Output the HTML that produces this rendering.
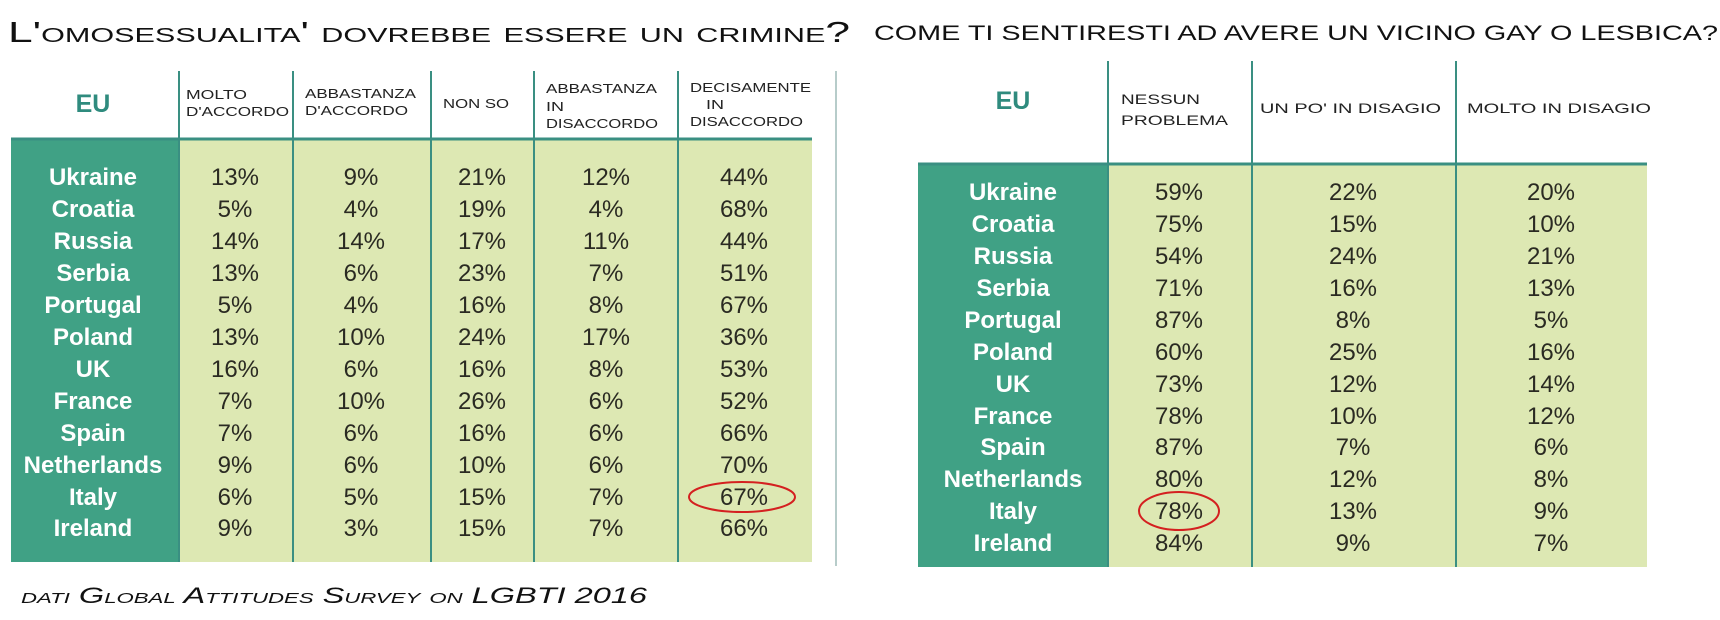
<!DOCTYPE html>
<html><head><meta charset="utf-8"><style>
html,body{margin:0;padding:0;background:#fff;}
svg{display:block;}
.n{font-family:"Liberation Sans",sans-serif;font-weight:bold;fill:#fff;font-size:24px;}
.v{font-family:"Liberation Sans",sans-serif;fill:#2a2a22;font-size:24px;}
.h{font-family:"Liberation Sans",sans-serif;fill:#222;font-size:12.5px;}
.eu{font-family:"Liberation Sans",sans-serif;font-weight:bold;fill:#2f8b7e;font-size:25px;}
</style></head><body>
<svg width="1720" height="620" viewBox="0 0 1720 620" xmlns="http://www.w3.org/2000/svg">
<rect width="1720" height="620" fill="#fff"/>
<!-- titles -->
<text x="8" y="42" font-family="Liberation Sans, sans-serif" font-size="29" fill="#111" style="font-variant:small-caps" textLength="842" lengthAdjust="spacingAndGlyphs">L'omosessualita' dovrebbe essere un crimine?</text>
<text x="874" y="40" font-family="Liberation Sans, sans-serif" font-size="21" fill="#111" textLength="844" lengthAdjust="spacingAndGlyphs">COME TI SENTIRESTI AD AVERE UN VICINO GAY O LESBICA?</text>
<text x="21" y="603" font-family="Liberation Sans, sans-serif" font-size="22" font-style="italic" fill="#111" style="font-variant:small-caps" textLength="626" lengthAdjust="spacingAndGlyphs">dati Global Attitudes Survey on LGBTI 2016</text>

<!-- LEFT TABLE -->
<rect x="11" y="140" width="168" height="422" fill="#40a185"/>
<rect x="179" y="140" width="633" height="422" fill="#dde8b3"/>
<line x1="11" y1="139" x2="812" y2="139" stroke="#3a8f82" stroke-width="3"/>
<g stroke="#3a8f82" stroke-width="2">
<line x1="179" y1="71" x2="179" y2="562"/>
<line x1="293" y1="71" x2="293" y2="562"/>
<line x1="431" y1="71" x2="431" y2="562"/>
<line x1="534" y1="71" x2="534" y2="562"/>
<line x1="678" y1="71" x2="678" y2="562"/>
</g>
<line x1="836" y1="71" x2="836" y2="566" stroke="#9fbcb8" stroke-width="1.5"/>
<text class="eu" x="93" y="112" text-anchor="middle">EU</text>
<g class="h">
<text x="186" y="99" textLength="61" lengthAdjust="spacingAndGlyphs">MOLTO</text>
<text x="186" y="116" textLength="103" lengthAdjust="spacingAndGlyphs">D'ACCORDO</text>
<text x="305" y="98" textLength="111" lengthAdjust="spacingAndGlyphs">ABBASTANZA</text>
<text x="305" y="115" textLength="103" lengthAdjust="spacingAndGlyphs">D'ACCORDO</text>
<text x="443" y="108" textLength="66" lengthAdjust="spacingAndGlyphs">NON SO</text>
<text x="546" y="93" textLength="111" lengthAdjust="spacingAndGlyphs">ABBASTANZA</text>
<text x="546" y="111" textLength="18" lengthAdjust="spacingAndGlyphs">IN</text>
<text x="546" y="128" textLength="112" lengthAdjust="spacingAndGlyphs">DISACCORDO</text>
<text x="690" y="92" textLength="121" lengthAdjust="spacingAndGlyphs">DECISAMENTE</text>
<text x="706" y="109" textLength="18" lengthAdjust="spacingAndGlyphs">IN</text>
<text x="690" y="126" textLength="113" lengthAdjust="spacingAndGlyphs">DISACCORDO</text>
</g>
<g text-anchor="middle">
<g class="n">
<text x="93" y="185">Ukraine</text><text x="93" y="217">Croatia</text><text x="93" y="249">Russia</text><text x="93" y="281">Serbia</text><text x="93" y="313">Portugal</text><text x="93" y="345">Poland</text><text x="93" y="377">UK</text><text x="93" y="409">France</text><text x="93" y="441">Spain</text><text x="93" y="473">Netherlands</text><text x="93" y="505">Italy</text><text x="93" y="536">Ireland</text>
</g>
<g class="v">
<text x="235" y="185">13%</text><text x="361" y="185">9%</text><text x="482" y="185">21%</text><text x="606" y="185">12%</text><text x="744" y="185">44%</text>
<text x="235" y="217">5%</text><text x="361" y="217">4%</text><text x="482" y="217">19%</text><text x="606" y="217">4%</text><text x="744" y="217">68%</text>
<text x="235" y="249">14%</text><text x="361" y="249">14%</text><text x="482" y="249">17%</text><text x="606" y="249">11%</text><text x="744" y="249">44%</text>
<text x="235" y="281">13%</text><text x="361" y="281">6%</text><text x="482" y="281">23%</text><text x="606" y="281">7%</text><text x="744" y="281">51%</text>
<text x="235" y="313">5%</text><text x="361" y="313">4%</text><text x="482" y="313">16%</text><text x="606" y="313">8%</text><text x="744" y="313">67%</text>
<text x="235" y="345">13%</text><text x="361" y="345">10%</text><text x="482" y="345">24%</text><text x="606" y="345">17%</text><text x="744" y="345">36%</text>
<text x="235" y="377">16%</text><text x="361" y="377">6%</text><text x="482" y="377">16%</text><text x="606" y="377">8%</text><text x="744" y="377">53%</text>
<text x="235" y="409">7%</text><text x="361" y="409">10%</text><text x="482" y="409">26%</text><text x="606" y="409">6%</text><text x="744" y="409">52%</text>
<text x="235" y="441">7%</text><text x="361" y="441">6%</text><text x="482" y="441">16%</text><text x="606" y="441">6%</text><text x="744" y="441">66%</text>
<text x="235" y="473">9%</text><text x="361" y="473">6%</text><text x="482" y="473">10%</text><text x="606" y="473">6%</text><text x="744" y="473">70%</text>
<text x="235" y="505">6%</text><text x="361" y="505">5%</text><text x="482" y="505">15%</text><text x="606" y="505">7%</text><text x="744" y="505">67%</text>
<text x="235" y="536">9%</text><text x="361" y="536">3%</text><text x="482" y="536">15%</text><text x="606" y="536">7%</text><text x="744" y="536">66%</text>
</g>
</g>
<ellipse cx="742" cy="497" rx="53" ry="15" fill="none" stroke="#d42020" stroke-width="2"/>

<!-- RIGHT TABLE -->
<rect x="918" y="165" width="190" height="402" fill="#40a185"/>
<rect x="1108" y="165" width="539" height="402" fill="#dde8b3"/>
<line x1="918" y1="164" x2="1647" y2="164" stroke="#3a8f82" stroke-width="3"/>
<g stroke="#3a8f82" stroke-width="2">
<line x1="1108" y1="61" x2="1108" y2="567"/>
<line x1="1252" y1="61" x2="1252" y2="567"/>
<line x1="1456" y1="61" x2="1456" y2="567"/>
</g>
<text class="eu" x="1013" y="109" text-anchor="middle">EU</text>
<g class="h" style="font-size:14px">
<text x="1121" y="104" textLength="79" lengthAdjust="spacingAndGlyphs">NESSUN</text>
<text x="1121" y="125" textLength="107" lengthAdjust="spacingAndGlyphs">PROBLEMA</text>
<text x="1260" y="113" textLength="181" lengthAdjust="spacingAndGlyphs">UN PO' IN DISAGIO</text>
<text x="1467" y="113" textLength="184" lengthAdjust="spacingAndGlyphs">MOLTO IN DISAGIO</text>
</g>
<g text-anchor="middle">
<g class="n">
<text x="1013" y="200">Ukraine</text><text x="1013" y="232">Croatia</text><text x="1013" y="264">Russia</text><text x="1013" y="296">Serbia</text><text x="1013" y="328">Portugal</text><text x="1013" y="360">Poland</text><text x="1013" y="392">UK</text><text x="1013" y="424">France</text><text x="1013" y="455">Spain</text><text x="1013" y="487">Netherlands</text><text x="1013" y="519">Italy</text><text x="1013" y="551">Ireland</text>
</g>
<g class="v">
<text x="1179" y="200">59%</text><text x="1353" y="200">22%</text><text x="1551" y="200">20%</text>
<text x="1179" y="232">75%</text><text x="1353" y="232">15%</text><text x="1551" y="232">10%</text>
<text x="1179" y="264">54%</text><text x="1353" y="264">24%</text><text x="1551" y="264">21%</text>
<text x="1179" y="296">71%</text><text x="1353" y="296">16%</text><text x="1551" y="296">13%</text>
<text x="1179" y="328">87%</text><text x="1353" y="328">8%</text><text x="1551" y="328">5%</text>
<text x="1179" y="360">60%</text><text x="1353" y="360">25%</text><text x="1551" y="360">16%</text>
<text x="1179" y="392">73%</text><text x="1353" y="392">12%</text><text x="1551" y="392">14%</text>
<text x="1179" y="424">78%</text><text x="1353" y="424">10%</text><text x="1551" y="424">12%</text>
<text x="1179" y="455">87%</text><text x="1353" y="455">7%</text><text x="1551" y="455">6%</text>
<text x="1179" y="487">80%</text><text x="1353" y="487">12%</text><text x="1551" y="487">8%</text>
<text x="1179" y="519">78%</text><text x="1353" y="519">13%</text><text x="1551" y="519">9%</text>
<text x="1179" y="551">84%</text><text x="1353" y="551">9%</text><text x="1551" y="551">7%</text>
</g>
</g>
<ellipse cx="1179" cy="511" rx="40" ry="19" fill="none" stroke="#d42020" stroke-width="2"/>
</svg>
</body></html>
